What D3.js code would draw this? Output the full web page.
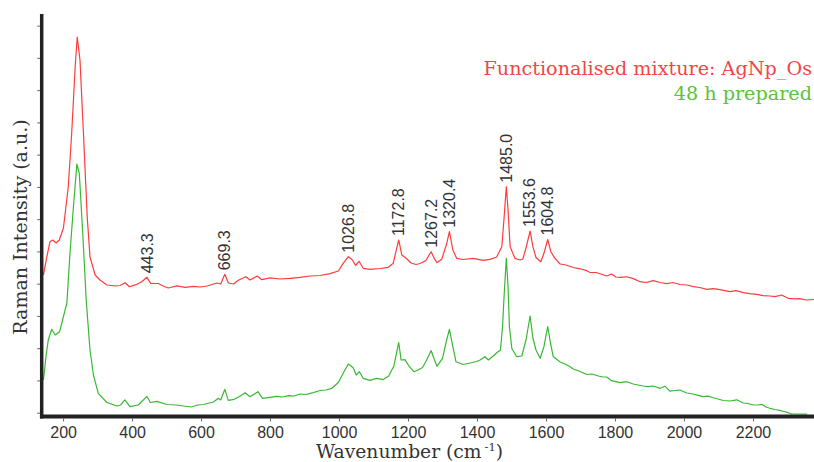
<!DOCTYPE html>
<html>
<head>
<meta charset="utf-8">
<script src="https://cdn.jsdelivr.net/npm/d3@7"></script>
<style>
  body { margin: 0; background: #ffffff; }
  svg { display: block; }
</style>
</head>
<body>
<svg id="chart" width="814" height="462"></svg>
<script>
// Raman spectra: functionalised AgNp_Os mixture (upper) and 48 h prepared sample (lower)
const wavenumberRed = [143,153,162,170,180,189,201,215,225,235,241,249,259,270,278,293,307,327,351,365,380,392,414,428,443,454,476,490,505,530,554,578,597,617,646,657,669,679,694,708,730,742,763,776,800,829,858,887,916,945,974,998,1012,1027,1039,1048,1058,1070,1090,1119,1143,1157,1173,1182,1193,1209,1223,1235,1252,1267,1276,1284,1298,1312,1320,1330,1341,1360,1389,1418,1438,1457,1472,1478,1485,1490,1496,1510,1525,1533,1542,1554,1562,1571,1585,1594,1605,1614,1626,1641,1658,1679,1699,1718,1728,1745,1757,1776,1790,1803,1815,1834,1853,1873,1890,1911,1931,1950,1968,1988,2009,2027,2046,2066,2084,2104,2133,2151,2172,2191,2211,2229,2249,2264,2283,2302,2322,2336,2354,2377];
const intensityRed = [4270,4836,5301,5354,5261,5354,5726,6997,8671,10717,11647,10934,8671,6067,4827,4269,4114,3959,3928,3943,4030,3906,3980,4061,4197,4011,4005,3928,3866,3934,3887,3918,3897,3928,4021,3990,4290,4021,3990,4104,4216,4114,4238,4123,4182,4145,4166,4197,4238,4253,4312,4393,4631,4836,4734,4563,4693,4476,4445,4470,4507,4631,5354,4889,4802,4641,4594,4625,4718,4991,4786,4650,4765,5230,5611,5044,4786,4749,4786,4724,4755,4827,5146,5974,7006,6284,5146,4786,4734,4765,5106,5633,5146,4811,4681,4941,5369,4991,4786,4610,4579,4501,4461,4402,4346,4346,4306,4238,4300,4207,4197,4213,4157,4061,4036,4092,4036,4002,4036,3974,3959,3906,3881,3825,3844,3813,3751,3782,3720,3689,3670,3627,3618,3596,3649,3546,3531,3537,3494,3509];

const wavenumberGreen = [143,151,157,167,177,190,201,211,220,230,240,247,257,267,278,288,302,327,356,367,379,394,418,443,453,472,501,528,549,571,591,607,636,650,657,669,679,696,710,728,742,765,778,800,819,835,853,870,887,904,925,945,962,979,998,1012,1027,1041,1050,1059,1070,1090,1109,1128,1144,1159,1173,1180,1191,1204,1217,1229,1242,1254,1267,1276,1284,1300,1312,1320,1330,1339,1360,1380,1399,1409,1423,1433,1447,1458,1468,1474,1479,1485,1490,1494,1501,1515,1530,1542,1554,1562,1571,1583,1594,1605,1614,1621,1641,1655,1670,1679,1699,1718,1733,1752,1765,1776,1790,1803,1815,1834,1853,1867,1882,1896,1911,1931,1945,1959,1974,1988,2008,2027,2041,2056,2070,2085,2099,2114,2133,2153,2172,2186,2201,2215,2225,2238,2249,2264,2278,2290,2302,2312,2336,2357];
const intensityGreen = [1014,1789,2254,2585,2409,2511,2976,3401,4941,6386,7710,7421,5561,3494,1944,1169,601,316,208,239,394,186,239,508,316,353,254,239,208,177,239,254,332,446,394,725,384,415,496,620,496,651,446,477,508,487,527,518,580,564,620,688,704,756,936,1221,1510,1392,1169,1271,1066,1004,1066,1026,1138,1448,2170,1634,1646,1426,1271,1324,1401,1634,1928,1655,1438,1686,2254,2585,2046,1581,1494,1541,1587,1634,1736,1634,1758,1866,1944,2666,3701,4786,3906,2666,1990,1736,1758,2254,2998,2316,1944,1686,2046,2672,2099,1742,1572,1510,1426,1355,1277,1184,1200,1138,1107,1107,992,961,930,961,890,859,828,806,828,756,822,667,688,704,611,580,539,496,512,462,425,378,363,400,301,285,239,239,260,177,136,99,74,37,0,-40,-40,-40];

// Annotated band positions (cm-1) on the upper spectrum
const peakPositions = [443.3, 669.3, 1026.8, 1172.8, 1267.2, 1320.4, 1485.0, 1553.6, 1604.8];
const peakLabels = ["443.3", "669.3", "1026.8", "1172.8", "1267.2", "1320.4", "1485.0", "1553.6", "1604.8"];

const xTickValues = [200, 400, 600, 800, 1000, 1200, 1400, 1600, 1800, 2000, 2200];
const yTickValues = [0, 1000, 2000, 3000, 4000, 5000, 6000, 7000, 8000, 9000, 10000, 11000, 12000];

const legendLabels = ["Functionalised mixture: AgNp_Os", "48 h prepared"];
const xTitle = "Wavenumber (cm";
const xTitleSup = "-1";
const yTitle = "Raman Intensity (a.u.)";

const RED = "#ff3b3b", GREEN = "#38b832";
const SERIF = "DejaVu Serif";
const SANS = "Liberation Sans";

const svg = d3.select("#chart");
const plotLeft = 41.7, plotRight = 814, plotTop = 14, plotBottom = 416.5;

const x = d3.scaleLinear().domain([138, 2377]).range([plotLeft, plotRight]);
const y = d3.scaleLinear().domain([-118, 12360]).range([plotBottom, plotTop]);

svg.append("defs").append("clipPath").attr("id", "plotClip")
  .append("rect").attr("x", plotLeft).attr("y", 0)
  .attr("width", plotRight - plotLeft).attr("height", plotBottom);

const line = d3.line().x(d => x(d[0])).y(d => y(d[1]));
const red = wavenumberRed.map((w, i) => [w, intensityRed[i]]);
const green = wavenumberGreen.map((w, i) => [w, intensityGreen[i]]);

const plot = svg.append("g").attr("clip-path", "url(#plotClip)");
plot.append("path").datum(green).attr("d", line)
  .attr("fill", "none").attr("stroke", GREEN).attr("stroke-width", 1.2).attr("stroke-linejoin", "round");
plot.append("path").datum(red).attr("d", line)
  .attr("fill", "none").attr("stroke", RED).attr("stroke-width", 1.2).attr("stroke-linejoin", "round");

// Peak annotations, placed just above the upper trace
const redAt = w => {
  const i = d3.bisectLeft(wavenumberRed, w);
  const i0 = Math.max(0, i - 1), i1 = Math.min(wavenumberRed.length - 1, i);
  return Math.max(intensityRed[i0], intensityRed[i1]);
};
svg.append("g").selectAll("text").data(peakPositions).join("text")
  .attr("transform", d => `translate(${x(d) + 5.5},${y(redAt(d)) - 4}) rotate(-90)`)
  .attr("font-family", SANS)
  .attr("font-size", 16).attr("fill", "#333")
  .text((d, i) => peakLabels[i]);

// Axes
const xAxis = d3.axisBottom(x).tickValues(xTickValues).tickSize(3).tickPadding(5).tickFormat(d3.format("d"));
const gx = svg.append("g").attr("transform", `translate(0,${plotBottom + 2})`).call(xAxis);
gx.attr("font-family", SANS).attr("font-size", 16);
gx.select(".domain").remove();
gx.selectAll(".tick line").attr("stroke", "#666");
gx.selectAll(".tick text").attr("fill", "#333");

const yAxis = d3.axisLeft(y).tickValues(yTickValues).tickSize(3).tickFormat("");
const gy = svg.append("g").attr("transform", `translate(${plotLeft - 1.5},0)`).call(yAxis);
gy.select(".domain").remove();
gy.selectAll(".tick line").attr("stroke", "#666");

svg.append("line").attr("x1", plotLeft).attr("x2", plotLeft)
  .attr("y1", plotTop).attr("y2", plotBottom + 2)
  .attr("stroke", "#222").attr("stroke-width", 3.5);
svg.append("line").attr("x1", plotLeft - 1.75).attr("x2", plotRight)
  .attr("y1", plotBottom).attr("y2", plotBottom)
  .attr("stroke", "#222").attr("stroke-width", 4);

// Axis titles
const xt = svg.append("text").attr("x", 316).attr("y", 458)
  .attr("font-family", SERIF).attr("font-size", 18.7).attr("fill", "#333");
xt.append("tspan").text(xTitle);
xt.append("tspan").attr("dx", 3).attr("dy", -7).attr("font-size", 11.5).text(xTitleSup);
xt.append("tspan").attr("dy", 7).text(")");

svg.append("text").attr("transform", "translate(26.5,227) rotate(-90)")
  .attr("text-anchor", "middle")
  .attr("font-family", SERIF).attr("font-size", 19).attr("fill", "#333")
  .text(yTitle);

// Legend
const legendColors = ["#f24646", "#5cc236"];
const legendBaselines = [74.5, 100];
svg.append("g").selectAll("text").data(legendLabels).join("text")
  .attr("x", 812).attr("y", (d, i) => legendBaselines[i])
  .attr("text-anchor", "end")
  .attr("font-family", SERIF).attr("font-size", 19.2)
  .attr("fill", (d, i) => legendColors[i])
  .text(d => d);
</script>
</body>
</html>
